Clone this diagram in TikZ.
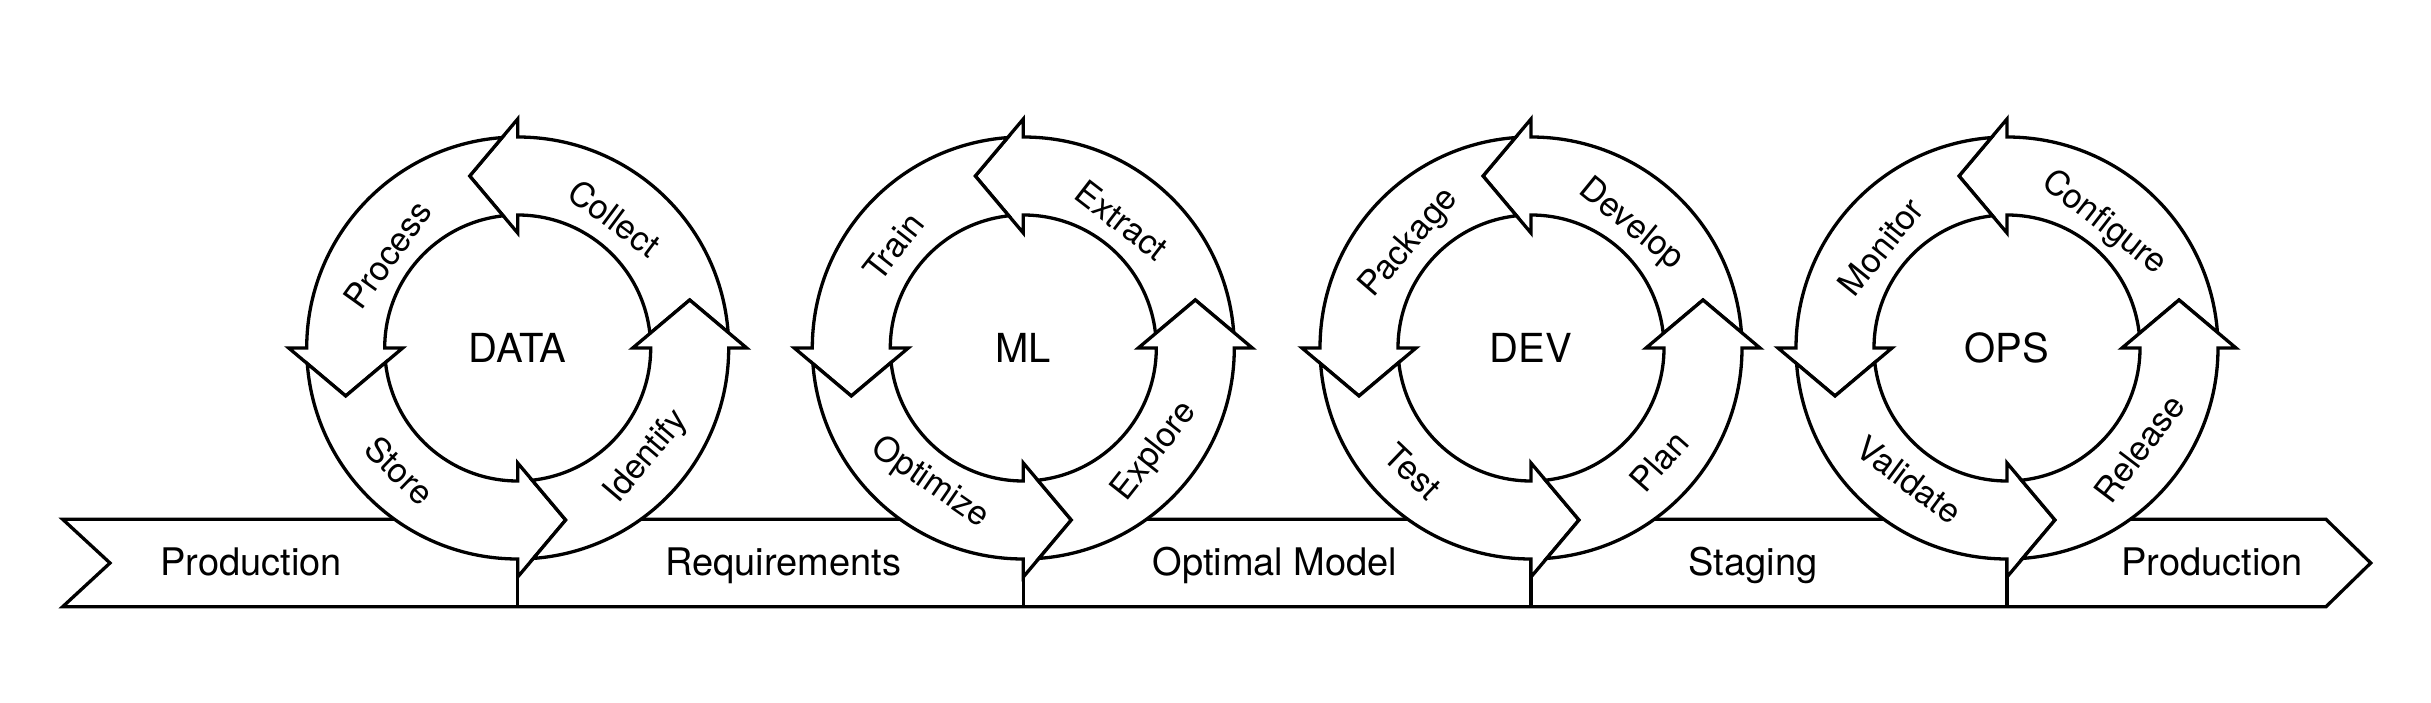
\documentclass[tikz,border=0pt]{standalone}
\usepackage{fontspec}
\setmainfont{TeX Gyre Heros}
\usetikzlibrary{calc}
\tikzset{
  ringarrow/.style={draw=black, fill=white, line width=3.3pt, line join=miter, miter limit=20},
  bannerbox/.style={draw=black, fill=white, line width=3.3pt, line join=miter},
  divider/.style={draw=black, line width=3.3pt},
  lbl/.style={font=\fontsize{34}{40}\selectfont, inner sep=0pt},
  bigtxt/.style={font=\fontsize{40}{48}\selectfont, inner sep=0pt},
  bantxt/.style={font=\fontsize{38}{46}\selectfont, inner sep=0pt, anchor=base},
}
\newcommand\cyclearrow[3]{%
  \path[ringarrow, shift={(#1,#2)}, rotate=#3]
    (210.42,15.65) arc[start angle=4.253, end angle=90, radius=211pt]
    -- (0,229) -- (-48,172) -- (0,115) -- (0,133)
    arc[start angle=90, end angle=6.255, radius=133pt]
    -- (172,48) -- cycle;
}
\newcommand\fullcycle[2]{%
  \cyclearrow{#1}{#2}{0}
  \cyclearrow{#1}{#2}{90}
  \cyclearrow{#1}{#2}{180}
  \cyclearrow{#1}{#2}{270}
}
\begin{document}
\begin{tikzpicture}[x=1pt,y=1pt]
\useasboundingbox (0,0) rectangle (2431,702);
% banner
\path[bannerbox] (62.7,182.7) -- (2326,182.7) -- (2370.7,139) -- (2326,95.3)
  -- (62.7,95.3) -- (110,139) -- cycle;
\foreach \cx in {517.7,1023.3,1531,2007}{
  \draw[divider] (\cx,95.3) -- (\cx,143);
}
\node[bantxt] (b1) at (251,127) {Production};
\node[bantxt] (b2) at (783,127) {Requirements};
\node[bantxt] (b3) at (1275,127) {Optimal Model};
\node[bantxt] (b4) at (1753,127) {Staging};
\node[bantxt] (b5) at (2212,127) {Production};
% cycles
\fullcycle{517.7}{354}
\fullcycle{1023.3}{354}
\fullcycle{1531}{354}
\fullcycle{2007}{354}
% DATA
\coordinate (c1) at (517.7,354);
\node[bigtxt] (data) at (c1) {DATA};
\node[lbl, rotate=-36.7] (collect) at ($(c1)+(53.3:162)$) {Collect};
\node[lbl, rotate=54.4] (process) at ($(c1)+(144.4:160)$) {Process};
\node[lbl, rotate=-44] (store) at ($(c1)+(226:170)$) {Store};
\node[lbl, rotate=49.8] (identify) at ($(c1)+(319.8:169)$) {Identify};
% ML
\coordinate (c2) at (1023.3,354);
\node[bigtxt] (ml) at (c2) {ML};
\node[lbl, rotate=-37.6] (extract) at ($(c2)+(52.4:161)$) {Extract};
\node[lbl, rotate=52] (train) at ($(c2)+(142:165)$) {Train};
\node[lbl, rotate=-34.6] (optimize) at ($(c2)+(235.4:164)$) {Optimize};
\node[lbl, rotate=51.8] (explore) at ($(c2)+(321.8:167.6)$) {Explore};
% DEV
\coordinate (c3) at (1531,354);
\node[bigtxt] (dev) at (c3) {DEV};
\node[lbl, rotate=-39.1] (develop) at ($(c3)+(50.9:158.5)$) {Develop};
\node[lbl, rotate=49.3] (package) at ($(c3)+(139.3:160.5)$) {Package};
\node[lbl, rotate=-43.7] (test) at ($(c3)+(226.3:171)$) {Test};
\node[lbl, rotate=48.5] (plan) at ($(c3)+(318.5:171)$) {Plan};
% OPS
\coordinate (c4) at (2007,354);
\node[bigtxt] (ops) at (c4) {OPS};
\node[lbl, rotate=-37.9] (configure) at ($(c4)+(52.1:158)$) {Configure};
\node[lbl, rotate=51.3] (monitor) at ($(c4)+(141.3:162)$) {Monitor};
\node[lbl, rotate=-36.6] (validate) at ($(c4)+(233.4:164)$) {Validate};
\node[lbl, rotate=52.8] (release) at ($(c4)+(322.8:166)$) {Release};
\end{tikzpicture}
\end{document}
